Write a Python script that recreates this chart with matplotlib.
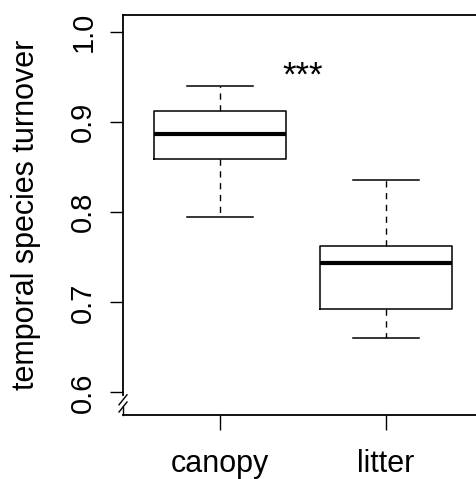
import matplotlib
matplotlib.use("Agg")
import matplotlib.pyplot as plt

# box statistics (temporal species turnover)
groups = ["canopy", "litter"]
whisker_low = [0.795, 0.660]
q1 = [0.859, 0.693]
median = [0.887, 0.744]
q3 = [0.912, 0.763]
whisker_high = [0.940, 0.836]

y_ticks = [0.6, 0.7, 0.8, 0.9, 1.0]
y_tick_labels = ["0.6", "0.7", "0.8", "0.9", "1.0"]
signif = "***"

plt.rcParams["font.family"] = ["Liberation Sans", "DejaVu Sans"]


def main():
    fig = plt.figure(figsize=(4.77, 4.79), dpi=100)
    ax = fig.add_axes([123 / 477, 64 / 479, 354 / 477, 400 / 479])

    stats = []
    for i, name in enumerate(groups):
        stats.append({
            "label": name,
            "whislo": whisker_low[i],
            "q1": q1[i],
            "med": median[i],
            "q3": q3[i],
            "whishi": whisker_high[i],
            "fliers": [],
        })

    ax.bxp(
        stats,
        positions=[1, 2],
        widths=0.8,
        capwidths=0.4,
        showfliers=False,
        boxprops=dict(color="black", linewidth=1.1),
        medianprops=dict(color="black", linewidth=3.0, solid_capstyle="butt"),
        whiskerprops=dict(color="black", linewidth=1.0, linestyle=(0, (4.5, 4))),
        capprops=dict(color="black", linewidth=1.1),
    )

    ax.set_xlim(0.4157, 2.548)
    ax.set_ylim(0.575, 1.0189)

    ax.set_yticks(y_ticks)
    ax.set_yticklabels(y_tick_labels, rotation=90, va="center")
    ax.set_xticks([1, 2])
    ax.set_xticklabels(groups)
    ax.tick_params(axis="y", length=9.5, width=1.0, pad=9, labelsize=21)
    ax.tick_params(axis="x", length=10.5, width=1.0, pad=14, labelsize=22)

    ax.set_ylabel("temporal species turnover", fontsize=22)
    ax.yaxis.set_label_coords(-0.233, 0.5)

    # frame: top and bottom lines, broken left axis, no right line
    ax.spines["right"].set_visible(False)
    for s in ["top", "bottom", "left"]:
        ax.spines[s].set_linewidth(1.3)
    ax.spines["left"].set_bounds(0.597, 1.0189)

    # axis break marks (plotrix style)
    dx, dy = 4 / 354, 5 / 400
    kw = dict(transform=ax.transAxes, color="black", linewidth=1.0, clip_on=False)
    for yc in [0.038, 0.020]:
        ax.plot([-dx, dx], [yc - dy, yc + dy], **kw)
    ax.plot([0, 0], [0, 0.020], **kw)

    ax.text(1.5, 0.951, signif, ha="center", va="center", fontsize=25)

    fig.savefig("out.png", dpi=100)


if __name__ == "__main__":
    main()
